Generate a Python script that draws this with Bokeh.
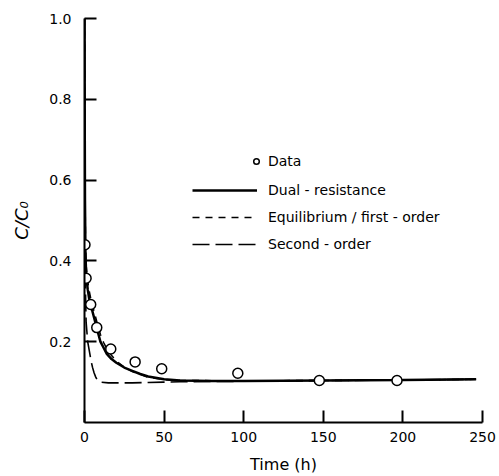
from bokeh.plotting import figure
from bokeh.models import Range1d, FixedTicker, Legend, LegendItem, PrintfTickFormatter
from bokeh.embed import file_html
from bokeh.resources import INLINE

# Data
data_t = [0.3, 1.0, 3.9, 7.7, 16.5, 31.8, 48.5, 96.3, 147.5, 196.3]
data_c = [0.44, 0.357, 0.292, 0.235, 0.182, 0.150, 0.133, 0.122, 0.104, 0.104]

dual_t = [0, 0.1, 0.3, 0.6, 1, 2, 3, 4, 6, 8, 10, 12, 14, 17, 20, 25, 30, 35, 40, 50, 60, 80, 100, 150, 200, 246]
dual_c = [1.0, 0.8, 0.55, 0.42, 0.37, 0.33, 0.305, 0.29, 0.26, 0.23, 0.2, 0.185, 0.17, 0.157, 0.148, 0.136, 0.128, 0.12, 0.114, 0.107, 0.104, 0.103, 0.103, 0.104, 0.105, 0.107]

eq_t = [0, 0.1, 0.3, 0.6, 1, 2, 3, 4, 6, 8, 10, 12, 15, 20, 25, 30, 40, 50, 60, 100, 150, 200, 246]
eq_c = [1.0, 0.82, 0.58, 0.45, 0.39, 0.35, 0.325, 0.305, 0.275, 0.245, 0.218, 0.198, 0.175, 0.152, 0.137, 0.126, 0.112, 0.106, 0.104, 0.103, 0.104, 0.105, 0.107]

so_t = [0, 0.2, 0.5, 1, 2, 3, 4, 5, 6, 7, 8, 10, 15, 20, 30, 40, 50, 60, 100, 150, 200, 246]
so_c = [1.0, 0.6, 0.35, 0.25, 0.2, 0.178, 0.155, 0.137, 0.123, 0.113, 0.105, 0.1, 0.098, 0.098, 0.098, 0.099, 0.1, 0.101, 0.102, 0.104, 0.105, 0.107]

x_ticks = [0, 50, 100, 150, 200, 250]
y_ticks = [0.2, 0.4, 0.6, 0.8, 1.0]

p = figure(frame_width=398, frame_height=404, output_backend="svg", toolbar_location=None,
           x_range=Range1d(0, 250), y_range=Range1d(0, 1.0),
           min_border_left=84, min_border_right=14, min_border_top=18, min_border_bottom=50)
p.outline_line_color = None
p.grid.visible = False
p.background_fill_color = "white"
p.border_fill_color = "white"

FONT = "DejaVu Sans"
for ax in (p.xaxis[0], p.yaxis[0]):
    ax.axis_line_width = 2
    ax.axis_line_color = "black"
    ax.major_tick_in = 12
    ax.major_tick_out = 0
    ax.major_tick_line_width = 2
    ax.minor_tick_line_color = None
    ax.major_label_text_font = FONT
    ax.major_label_text_font_size = "14px"
    ax.major_label_text_color = "black"
    ax.axis_label_text_font = FONT
    ax.axis_label_text_font_style = "normal"
    ax.axis_label_text_color = "black"

p.xaxis.ticker = FixedTicker(ticks=x_ticks)
p.yaxis.ticker = FixedTicker(ticks=y_ticks)
p.yaxis.formatter = PrintfTickFormatter(format="%.1f")
p.xaxis.major_label_standoff = 9
p.yaxis.major_label_standoff = 13
p.xaxis.axis_label = "Time (h)"
p.xaxis.axis_label_text_font_size = "16px"
p.xaxis.axis_label_standoff = 10
p.yaxis.axis_label = "C/C₀"
p.yaxis.axis_label_text_font_size = "18px"
p.yaxis.axis_label_text_font_style = "italic"
p.yaxis.axis_label_standoff = 14

r_dual = p.line(dual_t, dual_c, line_color="black", line_width=2.5)
r_eq = p.line(eq_t, eq_c, line_color="black", line_width=1.6, line_dash="7 6")
r_so = p.line(so_t, so_c, line_color="black", line_width=1.6, line_dash="17 6")
r_data = p.scatter(data_t, data_c, marker="circle", size=10, fill_color="white",
                   line_color="black", line_width=1.5)

common = dict(border_line_color=None, background_fill_alpha=0, padding=0, margin=0,
              label_text_font=FONT, label_text_font_size="14px", label_text_color="black",
              glyph_height=20, label_height=20)

leg_data = Legend(items=[LegendItem(label="Data", renderers=[r_data])],
                  location=(165, 251), glyph_width=14, label_standoff=5, **common)
leg_lines = Legend(items=[LegendItem(label="Dual - resistance", renderers=[r_dual]),
                          LegendItem(label="Equilibrium / first - order", renderers=[r_eq]),
                          LegendItem(label="Second - order", renderers=[r_so])],
                   location=(108, 168), glyph_width=65, label_standoff=11, spacing=7, **common)
p.add_layout(leg_data)
p.add_layout(leg_lines)

open("out.html", "w").write(file_html(p, INLINE))
